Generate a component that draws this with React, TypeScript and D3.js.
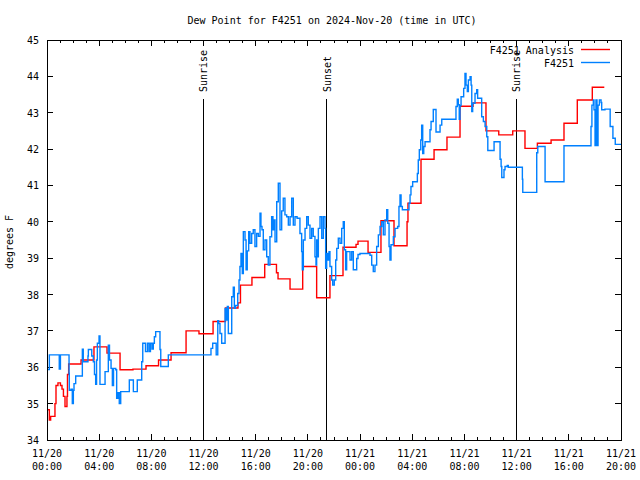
import React from "react";
import * as d3 from "d3";

// hours since 2024-11-20 00:00 UTC, value in degrees F
const analysisData: [number, number][] = [
  [0.0, 34.83], [0.18, 34.55], [0.28, 34.65], [0.61, 35.0], [0.69, 35.5], [0.84, 35.57],
  [1.03, 35.5], [1.15, 35.4], [1.26, 35.2], [1.38, 34.92], [1.53, 35.2], [1.57, 35.8],
  [1.66, 36.09], [2.61, 36.2], [3.6, 36.56], [4.6, 36.39], [5.6, 35.93], [6.59, 35.95],
  [7.59, 36.04], [8.55, 36.2], [9.51, 36.4], [10.66, 37.0], [11.65, 36.92], [12.73, 37.26],
  [13.68, 37.63], [14.64, 37.77], [14.83, 38.26], [15.71, 38.47], [16.69, 38.83],
  [17.59, 38.6], [17.71, 38.43], [18.63, 38.15], [19.6, 38.77], [20.67, 37.91],
  [21.69, 38.52], [22.69, 39.3], [23.69, 39.38], [23.84, 39.47], [24.61, 39.16],
  [25.6, 40.03], [26.6, 39.34], [27.6, 40.0], [27.67, 40.51], [28.67, 41.72],
  [29.67, 41.98], [30.66, 42.33], [31.66, 43.18], [32.66, 43.27], [33.65, 42.5],
  [34.63, 42.39], [35.7, 42.5], [36.64, 42.02], [37.59, 42.16], [38.64, 42.25],
  [39.63, 42.71], [40.65, 43.35], [41.8, 43.7], [42.72, 43.7],
];

const stationData: [number, number][] = [
  [0.0, 35.94], [0.18, 36.34], [0.94, 35.95], [1.03, 36.34], [1.69, 35.83], [1.71, 35.37],
  [1.84, 35.4], [1.94, 35.0], [2.02, 35.37], [2.07, 35.55], [2.2, 35.76], [2.71, 36.5],
  [2.78, 36.15], [3.14, 36.31], [3.17, 36.49], [3.43, 36.31], [3.55, 36.15], [3.64, 35.8],
  [3.73, 35.53], [3.8, 36.2], [3.86, 36.66], [3.99, 36.86], [4.06, 35.53], [4.45, 35.88],
  [4.7, 36.61], [4.79, 36.2], [4.91, 35.97], [5.01, 35.5], [5.1, 35.97], [5.27, 35.93],
  [5.34, 35.15], [5.44, 35.3], [5.54, 35.0], [5.65, 35.33], [6.31, 35.65], [6.62, 35.33],
  [6.92, 35.65], [7.26, 36.15], [7.34, 36.66], [7.55, 36.43], [7.7, 36.66], [7.82, 36.43],
  [7.93, 36.66], [8.05, 36.5], [8.15, 36.66], [8.23, 36.84], [8.33, 36.98], [8.66, 36.49],
  [8.72, 36.02], [9.3, 36.34], [12.57, 36.52], [12.7, 36.66], [12.97, 36.34], [13.09, 37.28],
  [13.16, 37.2], [13.26, 36.93], [13.39, 36.66], [13.65, 37.62], [13.72, 37.3], [13.82, 37.67],
  [13.9, 36.93], [14.16, 37.94], [14.28, 38.2], [14.36, 37.62], [14.45, 37.7], [14.62, 38.03],
  [14.72, 38.4], [14.79, 38.77], [14.87, 39.13], [14.97, 38.58], [15.05, 39.73], [15.18, 39.5],
  [15.26, 38.68], [15.35, 39.2], [15.46, 39.73], [15.56, 39.41], [15.69, 39.68], [15.81, 39.78],
  [15.94, 39.32], [16.07, 39.68], [16.2, 39.6], [16.33, 40.24], [16.4, 39.87], [16.48, 39.78],
  [16.58, 39.23], [16.71, 39.5], [16.84, 39.04], [16.96, 38.81], [17.09, 39.59], [17.22, 40.14],
  [17.32, 39.78], [17.39, 40.05], [17.48, 39.45], [17.61, 40.55], [17.73, 41.06], [17.86, 39.78],
  [17.99, 40.3], [18.11, 40.65], [18.24, 40.19], [18.37, 40.14], [18.5, 39.91], [18.63, 40.14],
  [18.76, 40.65], [18.88, 39.91], [19.01, 40.14], [19.17, 40.1], [19.39, 39.68], [19.52, 39.18],
  [19.57, 38.68], [19.65, 39.5], [19.78, 39.82], [19.91, 40.14], [20.03, 39.91], [20.16, 39.55],
  [20.29, 39.82], [20.41, 39.6], [20.54, 39.04], [20.62, 38.81], [20.67, 39.5], [20.75, 39.04],
  [20.8, 39.82], [20.93, 40.14], [21.06, 39.55], [21.18, 40.14], [21.31, 39.82], [21.36, 38.72],
  [21.44, 39.13], [21.52, 38.95], [21.62, 39.18], [21.69, 38.77], [21.82, 38.4], [21.9, 38.26],
  [22.02, 38.4], [22.13, 38.95], [22.21, 39.27], [22.33, 39.55], [22.46, 39.41], [22.59, 39.82],
  [22.71, 40.0], [22.79, 39.23], [22.89, 38.68], [22.97, 39.18], [23.23, 38.95], [23.36, 39.18],
  [23.48, 38.68], [23.74, 38.99], [23.84, 39.1], [23.99, 39.13], [24.76, 39.08], [24.89, 38.81],
  [25.01, 38.63], [25.14, 38.81], [25.27, 39.32], [25.4, 39.64], [25.53, 39.87], [25.66, 40.0],
  [25.78, 39.64], [25.91, 40.05], [26.04, 40.33], [26.12, 39.96], [26.22, 39.32], [26.29, 38.95],
  [26.37, 39.37], [26.55, 39.59], [26.68, 39.82], [26.88, 39.87], [26.98, 40.42], [27.06, 40.74],
  [27.14, 40.42], [27.24, 40.33], [27.75, 40.51], [27.83, 40.74], [27.9, 40.97], [28.03, 41.1],
  [28.39, 41.33], [28.46, 41.7], [28.54, 41.98], [28.65, 42.25], [28.72, 42.66], [28.8, 41.88],
  [28.88, 42.07], [28.98, 42.2], [29.36, 42.53], [29.44, 42.76], [29.61, 43.09], [29.82, 42.47],
  [30.13, 42.66], [30.26, 42.82], [31.35, 43.17], [31.45, 43.37], [31.53, 43.22], [31.6, 42.82],
  [31.66, 43.2], [31.74, 43.44], [31.94, 43.67], [32.04, 44.08], [32.12, 43.76], [32.22, 43.58],
  [32.3, 43.9], [32.43, 43.99], [32.51, 43.76], [32.56, 43.03], [32.63, 43.26], [32.81, 43.53],
  [32.94, 43.63], [33.01, 43.4], [33.32, 42.89], [33.45, 42.76], [33.58, 42.62], [33.71, 42.34],
  [33.79, 41.96], [34.27, 42.2], [34.73, 41.72], [34.81, 41.52], [34.86, 41.22], [35.03, 41.43],
  [35.11, 41.52], [35.28, 41.55], [35.36, 41.5], [36.44, 41.17], [36.47, 40.81], [37.54, 41.9],
  [37.62, 42.07], [38.18, 41.1], [39.63, 42.09], [41.7, 42.62], [41.77, 43.21], [41.88, 43.35],
  [41.93, 43.08], [42.01, 42.1], [42.08, 43.35], [42.16, 42.1], [42.24, 43.21], [42.34, 43.35],
  [42.47, 43.28], [42.52, 43.08], [42.77, 43.1], [43.17, 42.62], [43.38, 42.3], [43.56, 42.13],
  [44.0, 42.13],
];

const sunEvents: { hour: number; label: string }[] = [
  { hour: 11.96, label: "Sunrise" },
  { hour: 21.44, label: "Sunset" },
  { hour: 35.98, label: "Sunrise" },
];

const yTicks = [34, 35, 36, 37, 38, 39, 40, 41, 42, 43, 44, 45];
const xMajorTicks = [0, 4, 8, 12, 16, 20, 24, 28, 32, 36, 40, 44];
const xTickDates = ["11/20", "11/20", "11/20", "11/20", "11/20", "11/20", "11/21", "11/21", "11/21", "11/21", "11/21", "11/21"];
const xTickTimes = ["00:00", "04:00", "08:00", "12:00", "16:00", "20:00", "00:00", "04:00", "08:00", "12:00", "16:00", "20:00"];

const seriesNames = ["F4251 Analysis", "F4251"];
const seriesColors = ["#ff0000", "#0080ff"];

const W = 640, H = 480;
const L = 47, R = 621, T = 40, B = 440;
const FONT = "'DejaVu Sans Mono', monospace";

export default function App() {
  const x = d3.scaleLinear().domain([0, 44]).range([L, R]);
  const y = d3.scaleLinear().domain([34, 45]).range([B, T]);
  const line = d3.line<[number, number]>()
    .x((d) => x(d[0]))
    .y((d) => y(d[1]))
    .curve(d3.curveStepAfter);
  const minorTicks = d3.range(0, 45, 1).filter((h) => h % 4 !== 0);

  return (
    <svg width={W} height={H} style={{ position: "absolute", left: 0, top: 0, background: "#fff" }} fontFamily={FONT}>
      <rect x={0} y={0} width={W} height={H} fill="#fff" />
      <text x={332} y={24} textAnchor="middle" fontSize={10} fill="#000">
        Dew Point for F4251 on 2024-Nov-20 (time in UTC)
      </text>
      <text transform={`translate(13,${242}) rotate(-90)`} textAnchor="middle" fontSize={10} fill="#000">
        degrees F
      </text>

      {/* y ticks */}
      {yTicks.map((v) => (
        <g key={"y" + v}>
          <line x1={L} x2={L + 6} y1={y(v)} y2={y(v)} stroke="#000" shapeRendering="crispEdges" />
          <line x1={R} x2={R - 6} y1={y(v)} y2={y(v)} stroke="#000" shapeRendering="crispEdges" />
          <text x={39} y={y(v) + 4} textAnchor="end" fontSize={10} fill="#000">{v}</text>
        </g>
      ))}

      {/* x ticks */}
      {xMajorTicks.map((h, i) => (
        <g key={"x" + h}>
          <line x1={x(h)} x2={x(h)} y1={B} y2={B - 6} stroke="#000" shapeRendering="crispEdges" />
          <line x1={x(h)} x2={x(h)} y1={T} y2={T + 6} stroke="#000" shapeRendering="crispEdges" />
          <text x={x(h)} y={457} textAnchor="middle" fontSize={10} fill="#000">{xTickDates[i]}</text>
          <text x={x(h)} y={470} textAnchor="middle" fontSize={10} fill="#000">{xTickTimes[i]}</text>
        </g>
      ))}
      {minorTicks.map((h) => (
        <g key={"m" + h}>
          <line x1={x(h)} x2={x(h)} y1={B} y2={B - 3} stroke="#000" shapeRendering="crispEdges" />
          <line x1={x(h)} x2={x(h)} y1={T} y2={T + 3} stroke="#000" shapeRendering="crispEdges" />
        </g>
      ))}

      {/* sun events */}
      {sunEvents.map((e, i) => (
        <g key={"s" + i}>
          <line x1={x(e.hour)} x2={x(e.hour)} y1={99} y2={B} stroke="#000" strokeWidth={1} shapeRendering="crispEdges" />
          <text transform={`translate(${x(e.hour) + 4},92) rotate(-90)`} textAnchor="start" fontSize={10} fill="#000">
            {e.label}
          </text>
        </g>
      ))}

      <path d={line(analysisData) || ""} fill="none" stroke={seriesColors[0]} strokeWidth={1.4} />
      <path d={line(stationData) || ""} fill="none" stroke={seriesColors[1]} strokeWidth={1.4} />

      {/* legend */}
      {seriesNames.map((n, i) => (
        <g key={"l" + n}>
          <text x={574} y={54 + i * 13} textAnchor="end" fontSize={10} fill="#000">{n}</text>
          <line x1={581} x2={610} y1={49.5 + i * 13} y2={49.5 + i * 13} stroke={seriesColors[i]} strokeWidth={1.4} />
        </g>
      ))}

      <rect x={L} y={T} width={R - L} height={B - T} fill="none" stroke="#000" strokeWidth={1} shapeRendering="crispEdges" />
    </svg>
  );
}
